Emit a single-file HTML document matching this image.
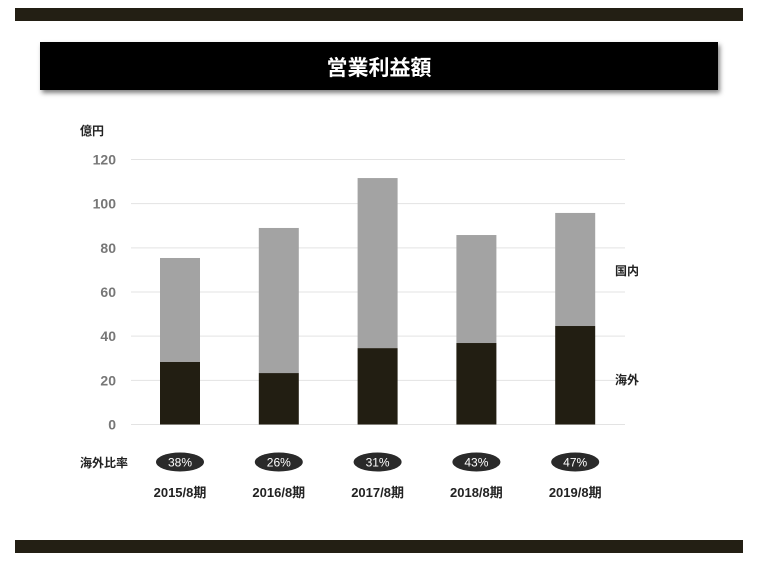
<!DOCTYPE html>
<html><head><meta charset="utf-8"><style>
body{margin:0;background:#fff;width:760px;height:561px;overflow:hidden;font-family:"Liberation Sans","Noto Sans CJK JP",sans-serif}
</style></head><body>
<svg width="760" height="561" xmlns="http://www.w3.org/2000/svg" id="chart">
<defs><filter id="sh" x="-5%" y="-20%" width="110%" height="150%"><feDropShadow dx="2" dy="3" stdDeviation="2.5" flood-color="#000" flood-opacity="0.5"/></filter></defs>
<rect x="15" y="8" width="728" height="13" fill="#231f14"/>
<rect x="15" y="540" width="728" height="13" fill="#231f14"/>
<g>
<rect x="40" y="42" width="678" height="48" fill="#000" filter="url(#sh)"/>
<text x="379" y="75" text-anchor="middle" fill="#fff" font-size="21" font-weight="bold">営業利益額</text>
</g>
<text x="80" y="135" font-size="12" font-weight="bold" fill="#222">億円</text>
<g id="grid"></g><g id="bars"></g>
<text x="615" y="275" font-size="12" font-weight="bold" fill="#222">国内</text>
<text x="615" y="384" font-size="12" font-weight="bold" fill="#222">海外</text>
<text x="80" y="467" font-size="12" font-weight="bold" fill="#222">海外比率</text>
</svg>
<script>
const categories=["2015/8期","2016/8期","2017/8期","2018/8期","2019/8期"];
const overseas=[28.3,23.3,34.6,36.9,44.6];
const domestic=[47.1,65.7,77.0,48.9,51.2];
const ratios=["38%","26%","31%","43%","47%"];
const ticks=[0,20,40,60,80,100,120];
const NS="http://www.w3.org/2000/svg";
const y0=424.5,pxPer=265/120;
const y=v=>y0-v*pxPer;
const xc=i=>180+i*98.8;
function mk(t,a,p){const e=document.createElementNS(NS,t);for(const k in a)e.setAttribute(k,a[k]);p.appendChild(e);return e;}
const grid=document.getElementById('grid'),bars=document.getElementById('bars');
ticks.forEach(t=>{
 const l=mk('line',{x1:131,x2:625,y1:y(t),y2:y(t),stroke:'#e3e3e3','stroke-width':1},grid);
 
 
 const tx=mk('text',{x:116,y:y(t)+5,'text-anchor':'end','font-size':14,'font-weight':'bold',fill:'#777'},grid);
 tx.textContent=t;
 
 
});
categories.forEach((c,i)=>{
 const cx=xc(i);
 const r1=mk('rect',{x:cx-20,y:y(overseas[i]),width:40,height:overseas[i]*pxPer,fill:'#221e12'},bars);
 
 
 const r2=mk('rect',{x:cx-20,y:y(overseas[i]+domestic[i]),width:40,height:domestic[i]*pxPer,fill:'#a3a3a3'},bars);
 
 
 const el=mk('ellipse',{cx:cx,cy:462,rx:24,ry:9.5,fill:'#2a2a2a'},bars);
 
 
 const rt=mk('text',{x:cx,y:466.5,'text-anchor':'middle','font-size':12,fill:'#fff'},bars);
 rt.textContent=ratios[i];
 
 
 const ct=mk('text',{x:cx,y:497,'text-anchor':'middle','font-size':13,'font-weight':'bold',fill:'#222'},bars);
 ct.textContent=c;
 
 
});
</script>
</body></html>
